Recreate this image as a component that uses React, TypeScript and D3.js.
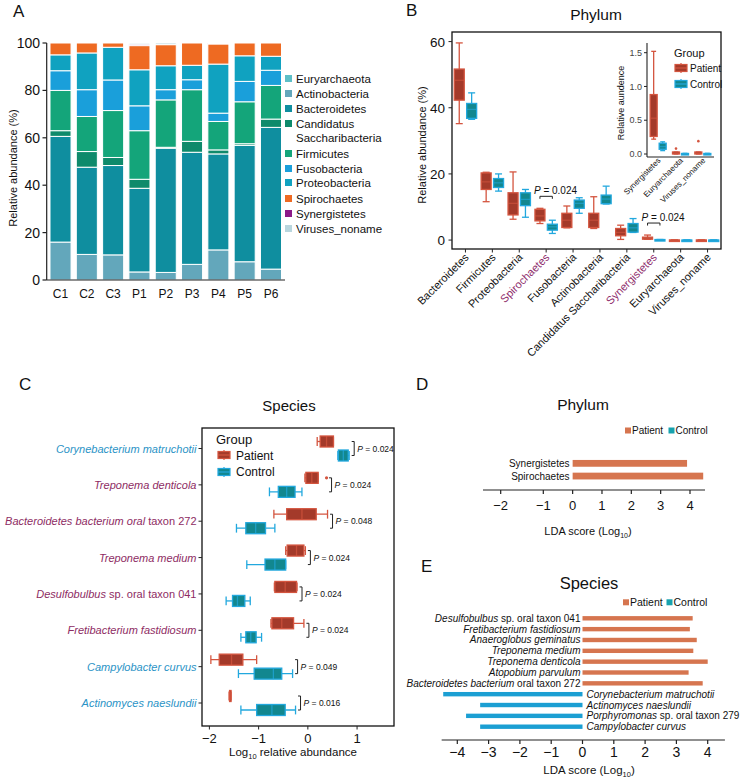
import React from "react";
import * as d3 from "d3";

const FONT = "'Liberation Sans', Arial, Helvetica, sans-serif";

// ---------- panel A: stacked composition ----------
const SAMPLES = ["C1", "C2", "C3", "P1", "P2", "P3", "P4", "P5", "P6"];
const LEGEND_A = ["Euryarchaeota", "Actinobacteria", "Bacteroidetes", "Candidatus Saccharibacteria", "Firmicutes",
  "Fusobacteria", "Proteobacteria", "Spirochaetes", "Synergistetes", "Viruses_noname"];
const COLORS_A = ["#5DBFC7", "#63A7BB", "#0F8E9F", "#0E8A6B", "#14A57A", "#1A9FDA", "#10A2C0", "#EE6A22", "#8C1A88", "#B9D6DE"];
const STACK_ORDER = ["Actinobacteria", "Bacteroidetes", "Candidatus Saccharibacteria", "Firmicutes", "Fusobacteria",
  "Proteobacteria", "Spirochaetes", "Synergistetes", "Viruses_noname", "Euryarchaeota"];
const actinobacteria = [16, 10.8, 10.6, 3.4, 3.2, 6.6, 12.7, 7.7, 4.6];
const bacteroidetes = [44.6, 36.8, 37.7, 35.3, 52.4, 47.3, 40.5, 49.1, 59.8];
const candidatus = [2.4, 6.6, 3.4, 3.8, 0.4, 4.6, 1.7, 0.7, 3.5];
const firmicutes = [17, 14.8, 19.8, 20.5, 20, 21.8, 12, 17.7, 14.2];
const fusobacteria = [8.3, 11.3, 12.9, 10.5, 4.3, 4.2, 3.5, 8.6, 6.4];
const proteobacteria = [6.7, 15.5, 13.8, 15.2, 10.1, 6.1, 20.7, 10.8, 5.9];
const spirochaetes = [5, 4.2, 1.8, 10.2, 8.9, 9.4, 8.5, 5.4, 5.6];
const synergistetes = [0, 0, 0, 0.6, 0, 0, 0.4, 0, 0];
const virusesNoname = [0, 0, 0, 0.5, 0.7, 0, 0, 0, 0];
const euryarchaeota = [0, 0, 0, 0, 0, 0, 0, 0, 0];
const Y_TICKS_A = [0, 20, 40, 60, 80, 100];

// ---------- panel B: phylum boxplots [lo, q1, median, q3, hi] ----------
const PHYLA_B = ["Bacteroidetes", "Firmicutes", "Proteobacteria", "Spirochaetes", "Fusobacteria", "Actinobacteria",
  "Candidatus Saccharibacteria", "Synergistetes", "Euryarchaeota", "Viruses_noname"];
const HIGHLIGHT_B = ["Spirochaetes", "Synergistetes"];
const patientB = [
  [35.2, 42.3, 48.3, 51.7, 59.6], [11.6, 15.3, 17.6, 20.3, 20.5], [6.3, 7.6, 11.1, 14.3, 20.6],
  [5.0, 5.8, 7.3, 9.3, 9.6], [3.7, 3.8, 6.0, 8.1, 10.3], [3.5, 3.8, 6.0, 8.1, 13.1],
  [0.2, 1.3, 2.3, 3.5, 4.5], [0.22, 0.26, 0.53, 0.88, 1.52], [0, 0, 0.01, 0.03, 0.03], [0, 0, 0.01, 0.03, 0.03],
];
const controlB = [
  [36.5, 36.8, 39.5, 41.3, 44.5], [14.8, 15.9, 17.3, 18.6, 20], [6.9, 10.4, 12.3, 14.3, 15.3],
  [2.0, 3.0, 4.0, 4.8, 6.0], [8.1, 9.6, 11.1, 12.1, 12.8], [10.9, 11.0, 12.4, 13.6, 16.3],
  [2.3, 2.4, 3.7, 5.0, 6.5], [0.05, 0.07, 0.11, 0.16, 0.18], [0, 0, 0.003, 0.008, 0.01], [0, 0, 0.003, 0.008, 0.01],
];
const P_B = [{ phylum: "Spirochaetes", p: "0.024" }, { phylum: "Synergistetes", p: "0.024" }];
const Y_TICKS_B = [0, 20, 40, 60];
const INSET_PHYLA = ["Synergistetes", "Euryarchaeota", "Viruses_noname"];
const INSET_OUTLIERS = [{ phylum: "Euryarchaeota", v: 0.08 }, { phylum: "Viruses_noname", v: 0.19 }];
const INSET_TICKS = [0, 0.5, 1.0, 1.5];

// ---------- panel C: species boxplots (log10) ----------
const SPECIES_C = ["*Corynebacterium matruchotii*", "*Treponema denticola*", "*Bacteroidetes bacterium oral* taxon 272",
  "*Treponema medium*", "*Desulfobulbus* sp. oral taxon 041", "*Fretibacterium fastidiosum*", "*Campylobacter curvus*",
  "*Actinomyces naeslundii*"];
const ENRICHED_C = ["Control", "Patient", "Patient", "Patient", "Patient", "Patient", "Control", "Control"];
const P_C = ["0.024", "0.024", "0.048", "0.024", "0.024", "0.024", "0.049", "0.016"];
const patientC = [
  [0.19, 0.25, 0.38, 0.52, 0.52], [-0.06, -0.04, 0.08, 0.21, 0.21], [-0.69, -0.43, -0.12, 0.17, 0.4],
  [-0.45, -0.42, -0.23, -0.08, -0.05], [-0.68, -0.67, -0.46, -0.23, -0.22], [-0.75, -0.73, -0.53, -0.29, -0.08],
  [-1.97, -1.8, -1.55, -1.32, -1.04], [-1.6, -1.59, -1.58, -1.57, -1.56],
];
const controlC = [
  [0.61, 0.62, 0.72, 0.82, 0.84], [-0.78, -0.6, -0.43, -0.26, -0.12], [-1.45, -1.26, -1.06, -0.86, -0.67],
  [-1.24, -0.87, -0.67, -0.45, -0.45], [-1.66, -1.53, -1.43, -1.28, -1.17], [-1.36, -1.26, -1.16, -1.05, -0.94],
  [-1.41, -1.09, -0.7, -0.53, -0.31], [-1.36, -1.04, -0.73, -0.46, -0.25],
];
const OUTLIERS_C = [{ row: 1, v: 0.38 }];
const X_TICKS_C = [-2, -1, 0, 1];

// ---------- panel D / E: LDA ----------
const PHYLA_D = ["Synergistetes", "Spirochaetes"];
const LDA_D = [3.9, 4.45];
const X_TICKS_D = [-2, -1, 0, 1, 2, 3, 4];
const SPECIES_E = ["*Desulfobulbus* sp. oral taxon 041", "*Fretibacterium fastidiosum*", "*Anaeroglobus geminatus*",
  "*Treponema medium*", "*Treponema denticola*", "*Atopobium parvulum*", "*Bacteroidetes bacterium* oral taxon 272",
  "*Corynebacterium matruchotii*", "*Actinomyces naeslundii*", "*Porphyromonas* sp. oral taxon 279", "*Campylobacter curvus*"];
const LDA_E = [3.52, 3.43, 3.65, 3.54, 4.0, 3.39, 3.84, -4.45, -3.27, -3.72, -3.27];
const X_TICKS_E = [-4, -3, -2, -1, 0, 1, 2, 3, 4];

const GROUP = {
  Patient: { fill: "#A43A2A", stroke: "#D4553F", label: "#8E2C63", bar: "#D6754F" },
  Control: { fill: "#12878F", stroke: "#22A8DE", label: "#2A93C6", bar: "#1B9FD3" },
};
const LEGEND_SQ = { Patient: "#D6754F", Control: "#17A2AE" };

const fmt = (v: number) => (v < 0 ? "\u2212" + Math.abs(v) : String(v));

function Rich({ text, ...props }: any) {
  const parts = text.split("*");
  return (
    <text {...props}>
      {parts.map((p: string, i: number) =>
        p ? <tspan key={i} fontStyle={i % 2 === 1 ? "italic" : "normal"}>{p}</tspan> : null)}
    </text>
  );
}

// vertical box (panel B)
function VBox({ cx, w, s, y, group }: any) {
  const g = GROUP[group];
  const cap = w * 0.7;
  return (
    <g stroke={g.stroke} strokeWidth={1.3}>
      <line x1={cx} x2={cx} y1={y(s[0])} y2={y(s[4])} />
      <line x1={cx - cap / 2} x2={cx + cap / 2} y1={y(s[0])} y2={y(s[0])} />
      <line x1={cx - cap / 2} x2={cx + cap / 2} y1={y(s[4])} y2={y(s[4])} />
      <rect x={cx - w / 2} y={y(s[3])} width={w} height={Math.max(1.5, y(s[1]) - y(s[3]))} fill={g.fill} />
      <line x1={cx - w / 2} x2={cx + w / 2} y1={y(s[2])} y2={y(s[2])} strokeOpacity={0.6} />
    </g>
  );
}

// horizontal box (panel C)
function HBox({ cy, h, s, x, group }: any) {
  const g = GROUP[group];
  const cap = h * 0.8;
  return (
    <g stroke={g.stroke} strokeWidth={1.3}>
      <line y1={cy} y2={cy} x1={x(s[0])} x2={x(s[4])} />
      <line y1={cy - cap / 2} y2={cy + cap / 2} x1={x(s[0])} x2={x(s[0])} />
      <line y1={cy - cap / 2} y2={cy + cap / 2} x1={x(s[4])} x2={x(s[4])} />
      <rect y={cy - h / 2} x={x(s[1])} height={h} width={Math.max(1.5, x(s[3]) - x(s[1]))} fill={g.fill} />
      <line y1={cy - h / 2} y2={cy + h / 2} x1={x(s[2])} x2={x(s[2])} strokeOpacity={0.7} />
    </g>
  );
}

function KeyGlyph({ x, y, group }: any) {
  const g = GROUP[group];
  return (
    <g stroke={g.stroke} strokeWidth={1.2}>
      <line x1={x + 6} x2={x + 6} y1={y - 5} y2={y + 5} />
      <rect x={x} y={y - 3.5} width={12} height={7} fill={g.fill} />
      <line x1={x} x2={x + 12} y1={y} y2={y} />
    </g>
  );
}

function PanelA() {
  const series = [actinobacteria, bacteroidetes, candidatus, firmicutes, fusobacteria, proteobacteria,
    spirochaetes, synergistetes, virusesNoname, euryarchaeota];
  const rows = SAMPLES.map((s, i) => {
    const r: any = { sample: s };
    STACK_ORDER.forEach((k, j) => (r[k] = series[j][i]));
    return r;
  });
  const stacked = d3.stack().keys(STACK_ORDER)(rows);
  const color = d3.scaleOrdinal<string, string>().domain(LEGEND_A).range(COLORS_A);
  const x = d3.scaleBand().domain(SAMPLES).range([47, 284.5]).paddingInner(0.2).paddingOuter(0.114);
  const y = d3.scaleLinear().domain([0, 100]).range([280, 43]);
  const legendY = [79, 94, 109, 124, 154, 169, 183, 199, 214, 229];
  return (
    <g>
      <text x={13} y={17} fontSize={17}>A</text>
      {stacked.map((layer) => (
        <g key={layer.key} fill={color(layer.key)}>
          {layer.map((d, i) =>
            d[1] - d[0] > 0 ? (
              <rect key={i} x={x(SAMPLES[i])} width={x.bandwidth()} y={y(d[1])} height={y(d[0]) - y(d[1])}
                stroke="#fff" strokeWidth={1} />
            ) : null)}
        </g>
      ))}
      <line x1={46.7} x2={46.7} y1={y(0)} y2={y(100)} stroke="#222" strokeWidth={1.2} />
      <line x1={46.7} x2={285} y1={y(0)} y2={y(0)} stroke="#222" strokeWidth={1.2} />
      {Y_TICKS_A.map((t) => (
        <g key={t}>
          <line x1={42.5} x2={46.7} y1={y(t)} y2={y(t)} stroke="#222" strokeWidth={1.2} />
          <text x={40} y={y(t) + 5} textAnchor="end" fontSize={14}>{t}</text>
        </g>
      ))}
      {SAMPLES.map((s) => (
        <text key={s} x={x(s)! + x.bandwidth() / 2} y={298} textAnchor="middle" fontSize={12}>{s}</text>
      ))}
      <text transform="translate(17,168) rotate(-90)" textAnchor="middle" fontSize={11}>Relative abundance (%)</text>
      {LEGEND_A.map((k, i) => (
        <g key={k}>
          <rect x={285} y={legendY[i] - 4} width={7} height={7} fill={color(k)} />
          {k === "Candidatus Saccharibacteria" ? (
            <text x={296} y={legendY[i] + 4} fontSize={11.5}>
              <tspan>Candidatus</tspan>
              <tspan x={296} dy={14}>Saccharibacteria</tspan>
            </text>
          ) : (
            <text x={296} y={legendY[i] + 4} fontSize={11.5}>{k}</text>
          )}
        </g>
      ))}
    </g>
  );
}

function PanelB() {
  const x = d3.scalePoint().domain(PHYLA_B).range([452, 721]).padding(0.5);
  const y = d3.scaleLinear().domain([-2.7, 62.9]).range([249, 32]);
  const off = 6.2;
  // inset
  const xi = d3.scalePoint().domain(INSET_PHYLA).range([647, 714]).padding(0.5);
  const yi = d3.scaleLinear().domain([0, 1.5]).range([154, 52.7]);
  const idx = (p: string) => PHYLA_B.indexOf(p);
  return (
    <g>
      <text x={406} y={16} fontSize={17}>B</text>
      <text x={596} y={20} textAnchor="middle" fontSize={15.5}>Phylum</text>
      <rect x={452} y={32} width={269} height={217} fill="none" stroke="#111" strokeWidth={1.3} />
      {Y_TICKS_B.map((t) => (
        <g key={t}>
          <line x1={448.5} x2={452} y1={y(t)} y2={y(t)} stroke="#222" />
          <text x={445} y={y(t) + 5} textAnchor="end" fontSize={13.5}>{t}</text>
        </g>
      ))}
      <text transform="translate(426,145) rotate(-90)" textAnchor="middle" fontSize={11}>Relative abundance (%)</text>
      {PHYLA_B.map((p, i) => (
        <g key={p}>
          <line x1={x(p)} x2={x(p)} y1={249} y2={252.5} stroke="#222" />
          <VBox cx={x(p)! - off} w={10} s={patientB[i]} y={y} group="Patient" />
          <VBox cx={x(p)! + off} w={10} s={controlB[i]} y={y} group="Control" />
          <text transform={`translate(${x(p)! + 4},${258}) rotate(-45)`} textAnchor="end" fontSize={11}
            fill={HIGHLIGHT_B.includes(p) ? "#8E2C6B" : "#111"}>{p}</text>
        </g>
      ))}
      {P_B.map((d) => {
        const i = idx(d.phylum);
        const top = y(Math.max(patientB[i][4], controlB[i][4])) - 12;
        const x0 = x(d.phylum)! - off, x1 = x(d.phylum)! + off;
        return (
          <g key={d.phylum}>
            <path d={`M${x0},${top + 2.5}V${top}H${x1}V${top + 2.5}`} fill="none" stroke="#222" strokeWidth={1} />
            <text x={x0 - 6} y={top - 2} fontSize={10}>
              <tspan fontStyle="italic">P</tspan> = {d.p}
            </text>
          </g>
        );
      })}
      {/* inset */}
      <line x1={647} x2={647} y1={43} y2={157} stroke="#222" strokeWidth={1.1} />
      <line x1={647} x2={714} y1={157} y2={157} stroke="#222" strokeWidth={1.1} />
      {INSET_TICKS.map((t) => (
        <g key={t}>
          <line x1={644} x2={647} y1={yi(t)} y2={yi(t)} stroke="#222" />
          <text x={642} y={yi(t) + 3.2} textAnchor="end" fontSize={9} fill="#444">{t.toFixed(1)}</text>
        </g>
      ))}
      <text transform="translate(624,103) rotate(-90)" textAnchor="middle" fontSize={9}>Relative aundence</text>
      {INSET_PHYLA.map((p) => (
        <g key={p}>
          <VBox cx={xi(p)! - 4.5} w={7} s={patientB[idx(p)]} y={yi} group="Patient" />
          <VBox cx={xi(p)! + 4.5} w={7} s={controlB[idx(p)]} y={yi} group="Control" />
          <text transform={`translate(${xi(p)! + 3},${161}) rotate(-45)`} textAnchor="end" fontSize={8}>{p}</text>
        </g>
      ))}
      {INSET_OUTLIERS.map((o) => (
        <circle key={o.phylum} cx={xi(o.phylum)! - 4.5} cy={yi(o.v)} r={1.3} fill={GROUP.Patient.stroke} />
      ))}
      <text x={674} y={57} fontSize={11}>Group</text>
      <KeyGlyph x={675} y={68} group="Patient" />
      <text x={690} y={72} fontSize={10}>Patient</text>
      <KeyGlyph x={675} y={84} group="Control" />
      <text x={690} y={88} fontSize={10}>Control</text>
    </g>
  );
}

function PanelC() {
  const x = d3.scaleLinear().domain([-2.15, 1.75]).range([202, 394]);
  const y = d3.scalePoint().domain(SPECIES_C).range([448.5, 703]);
  const off = 7;
  return (
    <g>
      <text x={19} y={390} fontSize={17}>C</text>
      <text x={289} y={411} textAnchor="middle" fontSize={15}>Species</text>
      <rect x={202} y={428} width={192} height={298} fill="none" stroke="#111" strokeWidth={1.3} />
      {SPECIES_C.map((s, i) => {
        const cy = y(s)!;
        const bx = x(Math.max(patientC[i][4], controlC[i][4], ...OUTLIERS_C.filter((o) => o.row === i).map((o) => o.v))) + 5;
        return (
          <g key={s}>
            <line x1={198.5} x2={202} y1={cy} y2={cy} stroke="#222" />
            <Rich text={s} x={196.5} y={cy + 4} textAnchor="end" fontSize={11} fill={GROUP[ENRICHED_C[i]].label} />
            <HBox cy={cy - off} h={11} s={patientC[i]} x={x} group="Patient" />
            <HBox cy={cy + off} h={11} s={controlC[i]} x={x} group="Control" />
            <path d={`M${bx - 2.5},${cy - off}H${bx}V${cy + off}H${bx - 2.5}`} fill="none" stroke="#222" strokeWidth={1} />
            <text x={bx + 3} y={cy + 3} fontSize={8.5}>
              <tspan fontStyle="italic">P</tspan> = {P_C[i]}
            </text>
          </g>
        );
      })}
      {OUTLIERS_C.map((o) => (
        <circle key={o.row} cx={x(o.v)} cy={y(SPECIES_C[o.row])! - off} r={1.6} fill={GROUP.Patient.stroke} />
      ))}
      {X_TICKS_C.map((t) => (
        <g key={t}>
          <line x1={x(t)} x2={x(t)} y1={726} y2={729.5} stroke="#222" />
          <text x={x(t)} y={743} textAnchor="middle" fontSize={13}>{fmt(t)}</text>
        </g>
      ))}
      <text x={293} y={756} textAnchor="middle" fontSize={11.5}>
        Log<tspan fontSize={7.5} dy={3}>10</tspan><tspan dy={-3}> relative abundance</tspan>
      </text>
      <text x={216} y={444} fontSize={13}>Group</text>
      <KeyGlyph x={218} y={455} group="Patient" />
      <text x={236} y={459.5} fontSize={12}>Patient</text>
      <KeyGlyph x={218} y={472} group="Control" />
      <text x={236} y={476} fontSize={12}>Control</text>
    </g>
  );
}

function LdaLegend({ x0, y0, fs }: any) {
  return (
    <g fontSize={fs}>
      <rect x={x0} y={y0 - 3} width={6} height={6} fill={LEGEND_SQ.Patient} />
      <text x={x0 + 7} y={y0 + 3.5}>Patient</text>
      <rect x={x0 + 43.5} y={y0 - 3} width={6} height={6} fill={LEGEND_SQ.Control} />
      <text x={x0 + 50.5} y={y0 + 3.5}>Control</text>
    </g>
  );
}

function PanelD() {
  const x = d3.scaleLinear().domain([-2, -1, 4]).range([500.7, 543.3, 690]);
  const y = d3.scaleBand().domain(PHYLA_D).range([457, 482.4]);
  return (
    <g>
      <text x={416} y={390} fontSize={17}>D</text>
      <text x={583} y={410} textAnchor="middle" fontSize={15.5}>Phylum</text>
      <LdaLegend x0={625} y0={430.5} fs={10} />
      {PHYLA_D.map((p, i) => (
        <g key={p}>
          <rect x={Math.min(x(0), x(LDA_D[i]))} width={Math.abs(x(LDA_D[i]) - x(0))}
            y={y(p)! + y.bandwidth() / 2 - 3.4} height={6.8} fill={GROUP.Patient.bar} />
          <text x={569.5} y={y(p)! + y.bandwidth() / 2 + 3.5} textAnchor="end" fontSize={10}>{p}</text>
        </g>
      ))}
      <line x1={483} x2={705} y1={490} y2={490} stroke="#222" strokeWidth={1.2} />
      {X_TICKS_D.map((t) => (
        <g key={t}>
          <line x1={x(t)} x2={x(t)} y1={490} y2={494} stroke="#222" strokeWidth={1.2} />
          <text x={x(t)} y={510} textAnchor="middle" fontSize={13}>{fmt(t)}</text>
        </g>
      ))}
      <text x={588} y={535} textAnchor="middle" fontSize={11}>
        LDA score (Log<tspan fontSize={7} dy={3}>10</tspan><tspan dy={-3}>)</tspan>
      </text>
    </g>
  );
}

function PanelE() {
  const x = d3.scaleLinear().domain([0, 4]).range([582.5, 707.7]);
  const y = d3.scalePoint().domain(SPECIES_E).range([618.3, 726.7]);
  return (
    <g>
      <text x={421} y={572} fontSize={17}>E</text>
      <text x={589} y={589} textAnchor="middle" fontSize={16.5}>Species</text>
      <LdaLegend x0={623} y0={602.3} fs={10.5} />
      {SPECIES_E.map((s, i) => {
        const v = LDA_E[i];
        const cy = y(s)!;
        return (
          <g key={s}>
            <rect x={Math.min(x(0), x(v))} width={Math.abs(x(v) - x(0))} y={cy - 2.2} height={4.4}
              fill={v > 0 ? GROUP.Patient.bar : GROUP.Control.bar} />
            <Rich text={s} x={v > 0 ? x(0) - 2 : x(0) + 4} y={cy + 3.5} textAnchor={v > 0 ? "end" : "start"} fontSize={10} />
          </g>
        );
      })}
      <line x1={x(-4.5)} x2={x(4.55)} y1={740} y2={740} stroke="#222" strokeWidth={1.2} />
      {X_TICKS_E.map((t) => (
        <g key={t}>
          <line x1={x(t)} x2={x(t)} y1={740} y2={744} stroke="#222" strokeWidth={1.2} />
          <text x={x(t)} y={757} textAnchor="middle" fontSize={14}>{fmt(t)}</text>
        </g>
      ))}
      <text x={589} y={774} textAnchor="middle" fontSize={11.5}>
        LDA score (Log<tspan fontSize={7.5} dy={2.5}>10</tspan><tspan dy={-2.5}>)</tspan>
      </text>
    </g>
  );
}

export default function App() {
  return (
    <svg width={743} height={781} style={{ position: "absolute", left: 0, top: 0, display: "block", background: "#fff" }}
      fontFamily={FONT} fill="#111">
      <PanelA />
      <PanelB />
      <PanelC />
      <PanelD />
      <PanelE />
    </svg>
  );
}
